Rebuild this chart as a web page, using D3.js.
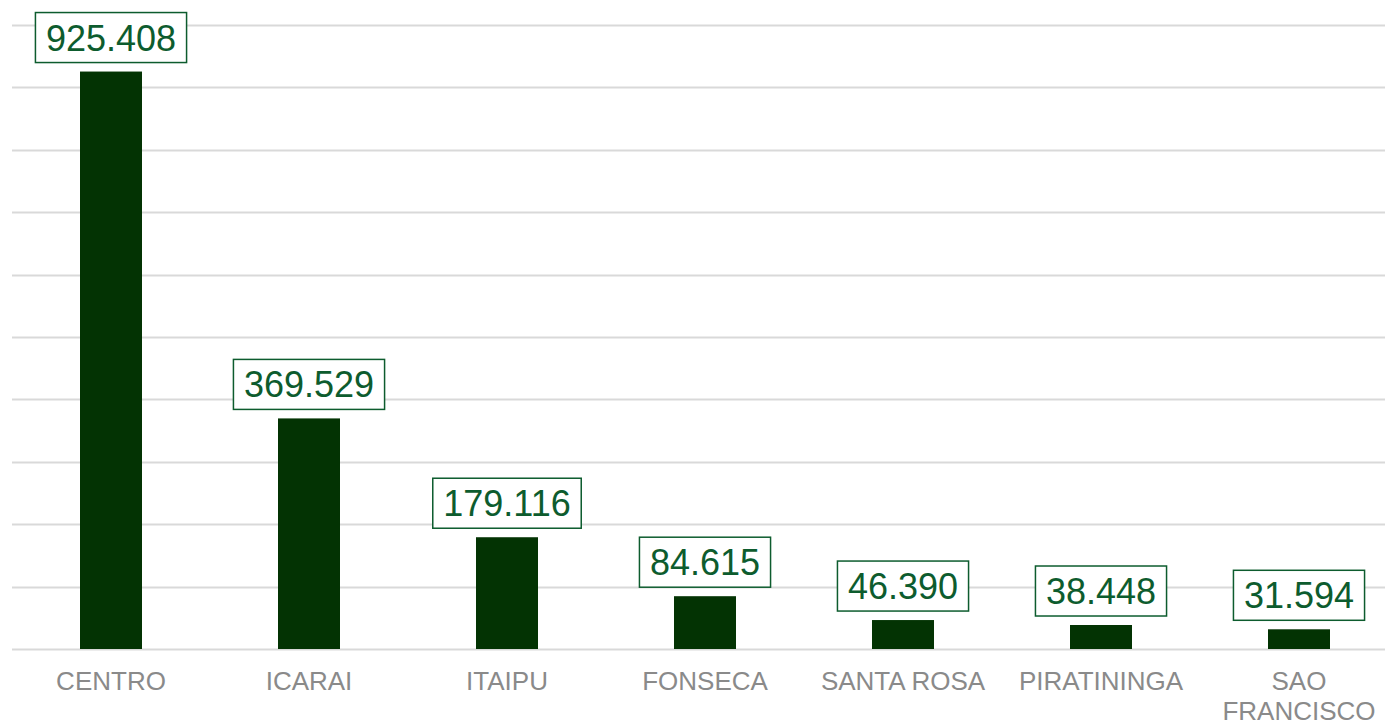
<!DOCTYPE html>
<html><head><meta charset="utf-8">
<script src="https://cdn.jsdelivr.net/npm/d3@7"></script>
<style>html,body{margin:0;padding:0;background:#fff;}svg{display:block;}</style>
</head><body>
<svg id="chart" width="1385" height="721"></svg>
<script>
const categories = ["CENTRO", "ICARAI", "ITAIPU", "FONSECA", "SANTA ROSA", "PIRATININGA", "SAO FRANCISCO"];
const values = [925408, 369529, 179116, 84615, 46390, 38448, 31594];
const yTicks = [0, 100000, 200000, 300000, 400000, 500000, 600000, 700000, 800000, 900000, 1000000];

const svg = d3.select("#chart");
const W = 1385, H = 721;
const left = 12, baseY = 649, topY = 25;

const x = d3.scaleBand().domain(categories).range([left, left + 198 * 7]).paddingInner(136/198).paddingOuter(68/198);
const y = d3.scaleLinear().domain([0, 1000000]).range([baseY, topY]);

const loc = d3.formatLocale({decimal: ",", thousands: ".", grouping: [3], currency: ["R$", ""]});
const fmt = loc.format(",d");

// gridlines
svg.append("g").selectAll("line").data(yTicks).join("line")
  .attr("x1", left).attr("x2", W)
  .attr("y1", d => Math.round(y(d)) + 0.5).attr("y2", d => Math.round(y(d)) + 0.5)
  .attr("stroke", "#d9d9d9").attr("stroke-width", 2);

// bars
svg.append("g").selectAll("rect").data(values).join("rect")
  .attr("x", (d, i) => x(categories[i]))
  .attr("width", x.bandwidth())
  .attr("y", d => y(d))
  .attr("height", d => baseY - y(d))
  .attr("fill", "#033303");

// labels
const lg = svg.append("g");
values.forEach((v, i) => {
  const cx = x(categories[i]) + x.bandwidth() / 2;
  const baseline = y(v) - 21;
  const g = lg.append("g");
  const t = g.append("text").attr("x", cx).attr("y", baseline)
    .attr("text-anchor", "middle")
    .attr("font-family", "Liberation Sans, Arial, sans-serif")
    .attr("font-size", 36).attr("fill", "#0d5c2e").text(fmt(v));
  const w = t.node().getComputedTextLength();
  g.insert("rect", "text").attr("x", cx - w / 2 - 10.5).attr("y", baseline - 38)
    .attr("width", w + 21).attr("height", 50)
    .attr("fill", "#fff").attr("stroke", "#0d5c2e").attr("stroke-width", 1.5);
});

// x-axis labels
const xg = svg.append("g");
categories.forEach(c => {
  const cx = x(c) + x.bandwidth() / 2;
  const words = c === "SAO FRANCISCO" ? ["SAO", "FRANCISCO"] : [c];
  const t = xg.append("text").attr("text-anchor", "middle")
    .attr("font-family", "Liberation Sans, Arial, sans-serif")
    .attr("font-size", 26).attr("fill", "#8a8a8a");
  words.forEach((w, k) => {
    t.append("tspan").attr("x", cx).attr("y", 690 + k * 30).text(w);
  });
});
</script>
</body></html>
